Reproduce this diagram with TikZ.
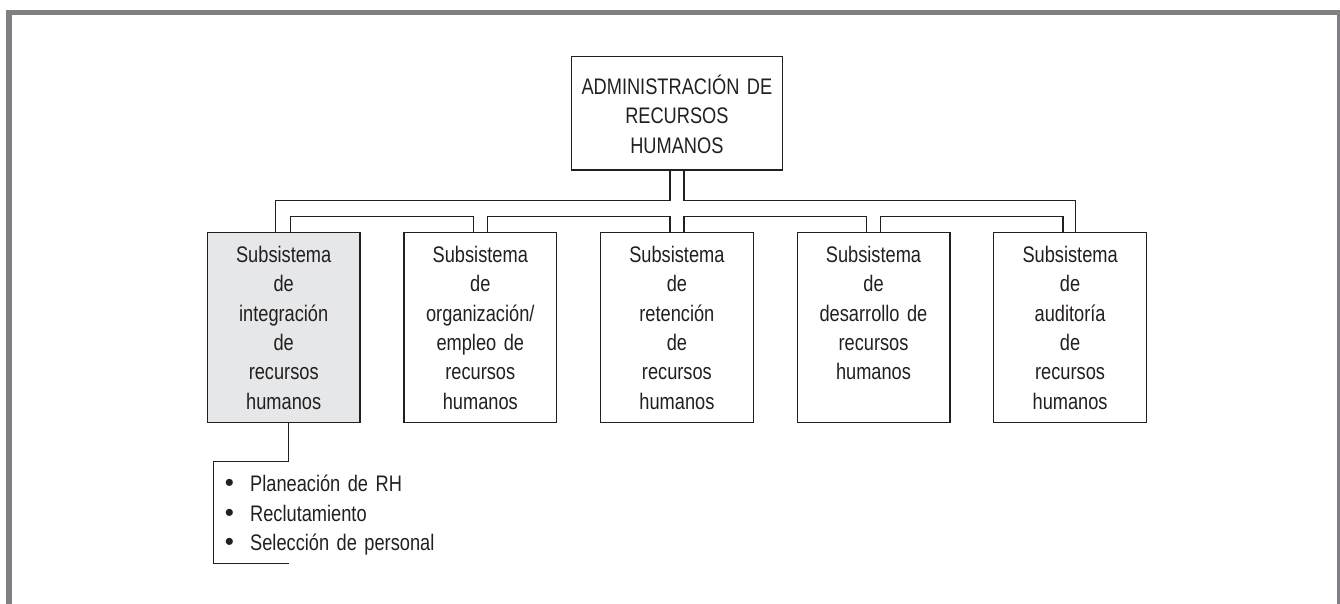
\documentclass[tikz,border=0pt]{standalone}
\usepackage{fontspec}
\setmainfont{Liberation Sans}[FakeStretch=0.81]
\newfontfamily\bulfont{Liberation Sans}
\definecolor{ink}{HTML}{231F20}
\definecolor{framegray}{HTML}{808084}
\definecolor{shade}{HTML}{E6E7E8}
\newcommand\boxfont{\fontsize{22.5}{29.4}\selectfont}
\newcommand\bul{\leavevmode\llap{{\bulfont\fontsize{26}{29.4}\selectfont\char"2022}\hspace{16.2pt}}}
\begin{document}
\begin{tikzpicture}[x=1pt,y=-1pt,
  conn/.style={draw=ink, line width=1.3pt},
  subbox/.style={draw=ink, line width=1.3pt, minimum width=152.7pt, text width=150pt,
    align=center, inner sep=0pt, text height=30pt, text depth=160pt,
    anchor=north, font=\boxfont, text=ink},
  topbox/.style={draw=ink, line width=1.3pt, minimum width=211.3pt, text width=205pt,
    align=center, inner sep=0pt, text height=38pt, text depth=75.6pt,
    anchor=north, font=\boxfont, text=ink},
  frame/.style={draw=framegray, line width=5.5pt}]
\useasboundingbox (0,0) rectangle (1340,603);
\clip (0,0) rectangle (1340,603);
\draw[frame] (9,12.5) rectangle (1340,640);

\node[topbox] (T) at (676.9,55.7) {ADMINISTRACIÓN DE\\RECURSOS\\HUMANOS};

\node[subbox, fill=shade] (b1) at (283.7,231.7) {Subsistema\\de\\integración\\de\\recursos\\humanos};
\node[subbox] (b2) at (480.3,231.7) {Subsistema\\de\\organización/\\empleo de\\recursos\\humanos};
\node[subbox] (b3) at (676.9,231.7) {Subsistema\\de\\retención\\de\\recursos\\humanos};
\node[subbox] (b4) at (873.5,231.7) {Subsistema\\de\\desarrollo de\\recursos\\humanos};
\node[subbox] (b5) at (1070.1,231.7) {Subsistema\\de\\auditoría\\de\\recursos\\humanos};

% outer connectors from the top box
\coordinate (ol) at (275.5,200.7);
\coordinate (or) at (1075.5,200.7);
\draw[conn] ([xshift=-7pt]T.south) |- (ol) -- (ol |- b1.north);
\draw[conn] ([xshift=7pt]T.south) |- (or) -- (or |- b5.north);

% inner connectors between neighbouring boxes
\draw[conn] ([xshift=7pt]b1.north) -- ++(0,-15) -| ([xshift=-7pt]b2.north);
\draw[conn] ([xshift=7pt]b2.north) -- ++(0,-15) -| ([xshift=-7pt]b3.north);
\draw[conn] ([xshift=7pt]b3.north) -- ++(0,-15) -| ([xshift=-7pt]b4.north);
\draw[conn] ([xshift=7pt]b4.north) -- ++(0,-15) -| ([xshift=-7pt]b5.north);

% list
\node[font=\boxfont, text=ink, text width=300pt, align=left, inner sep=0pt, anchor=base west] (L) at (250,491.7)
  {\bul Planeación de RH\\\bul Reclutamiento\\\bul Selección de personal};
\coordinate (bk1) at (213.7,461.3);
\coordinate (bk2) at (288.5,563.3);
\draw[conn] (b1.south -| bk2) |- (bk1) |- (bk2);
\end{tikzpicture}
\end{document}
